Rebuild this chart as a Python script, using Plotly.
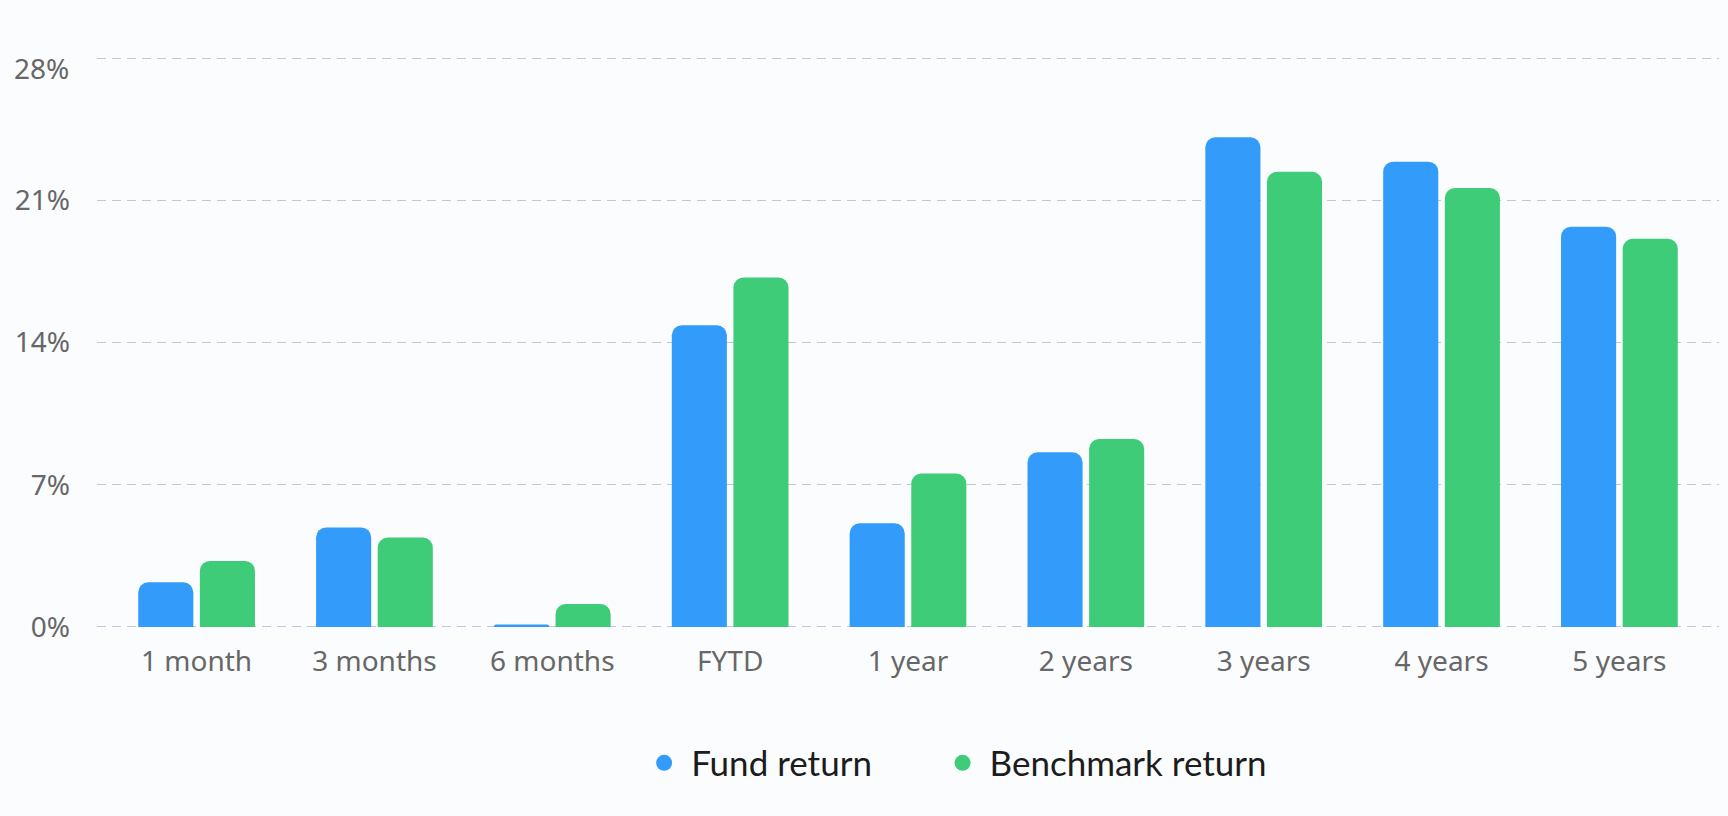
import plotly.graph_objects as go

categories = ["1 month", "3 months", "6 months", "FYTD", "1 year", "2 years", "3 years", "4 years", "5 years"]
fund_return = [2.2, 4.9, 0.12, 14.85, 5.1, 8.6, 24.1, 22.9, 19.7]
benchmark_return = [3.25, 4.4, 1.13, 17.2, 7.55, 9.25, 22.4, 21.6, 19.1]
series_names = ["Fund return", "Benchmark return"]
y_tick_values = [0, 7, 14, 21, 28]
y_tick_labels = ["0%", "7%", "14%", "21%", "28%"]

BLUE = "#339CFA"
GREEN = "#3ECC78"
BG = "#FBFCFE"
LABEL = "#676767"

fig = go.Figure()
for name, vals, col, lg in [(series_names[0], fund_return, BLUE, "legend"),
                            (series_names[1], benchmark_return, GREEN, "legend2")]:
    fig.add_trace(go.Bar(
        x=categories, y=vals, name=name, showlegend=False,
        marker=dict(color=col, cornerradius=10, line=dict(width=0)),
        hovertemplate="%{x}: %{y:.2f}%<extra>" + name + "</extra>",
    ))
    # legend proxy with circle symbol
    fig.add_trace(go.Scatter(
        x=[None], y=[None], mode="markers", name=name, legend=lg,
        marker=dict(color=col, size=16, symbol="circle"),
    ))

legend_common = dict(
    orientation="h", xanchor="left", y=-0.234, yanchor="middle",
    font=dict(family="Lato", size=35, color="#1c1c1c"),
    itemsizing="trace", itemwidth=44, bgcolor="rgba(0,0,0,0)",
)

fig.update_layout(
    width=1728, height=816,
    margin=dict(l=97, r=9, t=56, b=187),
    paper_bgcolor=BG, plot_bgcolor=BG,
    barmode="group", bargap=0.307, bargroupgap=0.106,
    showlegend=True,
    legend=dict(x=0.333, **legend_common),
    legend2=dict(x=0.517, **legend_common),
    font=dict(family="Noto Sans", color=LABEL),
)

fig.update_xaxes(
    type="category", range=[-0.56, 8.56],
    showgrid=False, zeroline=False, showline=False, ticks="",
    tickfont=dict(family="Noto Sans", size=28, color=LABEL),
    ticklabelstandoff=13,
)
fig.update_yaxes(
    range=[-0.1, 28.1], tickvals=y_tick_values,
    ticktext=[t if v != 28 else "" for v, t in zip(y_tick_values, y_tick_labels)],
    showgrid=True, gridcolor="#C3C4DE", gridwidth=1.2, griddash="9px,6px",
    zeroline=False, showline=False, ticks="",
    tickfont=dict(family="Noto Sans", size=28, color=LABEL),
    ticklabelstandoff=26,
)

# top tick label sits slightly below its gridline in the reference
fig.add_annotation(
    xref="paper", yref="y", x=0, y=y_tick_values[-1], text=y_tick_labels[-1],
    xanchor="right", yanchor="middle", xshift=-26, yshift=-10, showarrow=False,
    font=dict(family="Noto Sans", size=28, color=LABEL),
)

fig.write_html("out.html")
